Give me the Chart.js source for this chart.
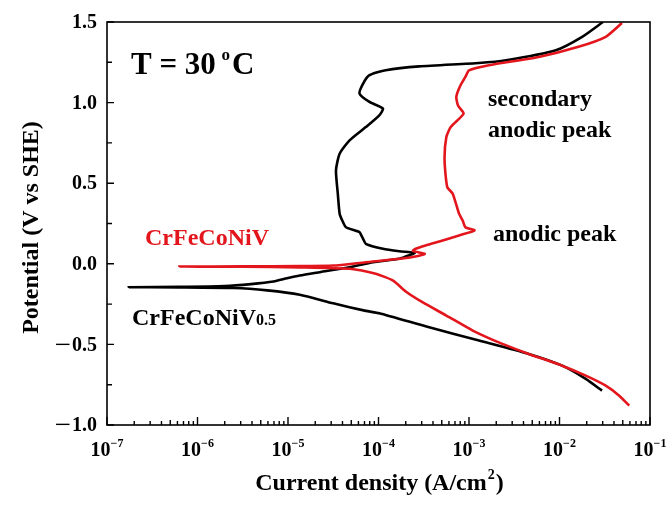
<!DOCTYPE html>
<html>
<head>
<meta charset="utf-8">
<script src="https://cdn.jsdelivr.net/npm/chart.js@4.4.1/dist/chart.umd.min.js"></script>
<style>
  html, body { margin: 0; padding: 0; background: #ffffff; }
  #wrap { width: 666px; height: 505px; }
</style>
</head>
<body>
<div id="wrap"><canvas id="c" width="666" height="505"></canvas></div>
<script>
// ---- Data (current density in A/cm2, potential in V vs SHE) ----
// CrFeCoNiV0.5 (black), in sweep order: cathodic end -> Ecorr -> anodic
const currentV05 = [
  2.95e-2, 1.95e-2, 1.07e-2, 4.57e-3, 1.29e-3, 3.63e-4, 1.02e-4, 7.24e-5, 3.16e-5, 1.35e-5,
  5.89e-6, 2.51e-6, 6.31e-7, 1.74e-7,
  6.31e-7, 2.00e-6, 3.89e-6, 6.92e-6, 9.77e-6, 1.35e-5, 2.24e-5, 4.79e-5, 8.71e-5, 1.70e-4,
  2.24e-4, 2.51e-4, 1.70e-4, 1.12e-4, 7.24e-5, 6.76e-5, 6.46e-5, 6.17e-5, 4.37e-5, 3.98e-5,
  3.72e-5, 3.55e-5, 3.39e-5, 3.72e-5, 4.79e-5, 7.24e-5, 1.02e-4, 1.12e-4, 7.94e-5, 6.17e-5,
  6.76e-5, 7.94e-5, 1.20e-4, 2.82e-4, 1.29e-3, 2.57e-3, 9.12e-3, 1.78e-2, 3.02e-2
];
const potentialV05 = [
  -0.787, -0.714, -0.632, -0.559, -0.476, -0.394, -0.307, -0.292, -0.245, -0.192,
  -0.165, -0.150, -0.146, -0.145,
  -0.143, -0.138, -0.126, -0.110, -0.090, -0.073, -0.052, -0.021, 0.010, 0.031,
  0.055, 0.068, 0.078, 0.093, 0.124, 0.155, 0.176, 0.196, 0.227, 0.269,
  0.311, 0.435, 0.580, 0.683, 0.766, 0.848, 0.921, 0.963, 1.004, 1.056,
  1.118, 1.170, 1.201, 1.225, 1.246, 1.263, 1.325, 1.408, 1.500
];
// CrFeCoNiV (red)
const currentV10 = [
  5.89e-2, 4.57e-2, 3.24e-2, 1.95e-2, 1.07e-2, 4.57e-3, 2.34e-3, 1.10e-3, 5.62e-4, 3.09e-4,
  2.00e-4, 1.45e-4, 9.33e-5, 4.79e-5, 1.35e-5, 3.16e-6, 6.31e-7,
  3.16e-6, 1.35e-5, 3.16e-5, 7.24e-5, 1.74e-4, 2.82e-4, 3.24e-4, 2.40e-4, 2.57e-4, 3.31e-4,
  5.13e-4, 7.76e-4, 1.15e-3, 9.12e-4, 8.51e-4, 7.76e-4, 6.61e-4, 5.75e-4, 5.37e-4, 5.62e-4,
  6.31e-4, 8.71e-4, 7.59e-4, 7.24e-4, 7.94e-4, 9.12e-4, 1.00e-3, 1.66e-3, 5.89e-3, 1.62e-2,
  3.24e-2, 4.90e-2
];
const potentialV10 = [
  -0.880, -0.818, -0.756, -0.694, -0.632, -0.559, -0.497, -0.414, -0.321, -0.240,
  -0.172, -0.104, -0.062, -0.031, -0.022, -0.018, -0.017,
  -0.016, -0.014, -0.011, 0.010, 0.031, 0.050, 0.062, 0.080, 0.093, 0.114,
  0.145, 0.176, 0.207, 0.227, 0.269, 0.311, 0.435, 0.476, 0.642, 0.786,
  0.850, 0.932, 0.980, 1.035, 1.100, 1.159, 1.200, 1.232, 1.283, 1.346,
  1.408, 1.494
];
// Axis ticks
const xTickExponents = [-7, -6, -5, -4, -3, -2, -1];
const yTickValues = [-1.0, -0.5, 0.0, 0.5, 1.0, 1.5];
const yTickLabels = ['\u22121.0', '\u22120.5', '0.0', '0.5', '1.0', '1.5'];
const yMinorTicks = [-0.75, -0.25, 0.25, 0.75, 1.25];

const RED = '#e2161c';
const FONT = '"Liberation Serif", "Times New Roman", serif';

function pairs(xs, ys) { return xs.map((x, i) => ({ x: x, y: ys[i] })); }

const decorPlugin = {
  id: 'decor',
  afterDraw(chart) {
    const ctx = chart.ctx;
    const a = chart.chartArea;
    const xs = chart.scales.x, ys = chart.scales.y;
    ctx.save();
    // frame
    ctx.strokeStyle = '#000';
    ctx.lineWidth = 1.6;
    ctx.strokeRect(a.left, a.top, a.right - a.left, a.bottom - a.top);
    // y ticks (inward)
    ctx.lineWidth = 1.4;
    ctx.beginPath();
    yTickValues.forEach(v => { const p = ys.getPixelForValue(v); ctx.moveTo(a.left, p); ctx.lineTo(a.left + 7, p); });
    yMinorTicks.forEach(v => { const p = ys.getPixelForValue(v); ctx.moveTo(a.left, p); ctx.lineTo(a.left + 5, p); });
    // x ticks (inward)
    xTickExponents.forEach((e, i) => {
      const p = xs.getPixelForValue(Math.pow(10, e));
      ctx.moveTo(p, a.bottom); ctx.lineTo(p, a.bottom - 8);
      if (i < xTickExponents.length - 1) {
        for (let m = 2; m <= 9; m++) {
          const q = xs.getPixelForValue(m * Math.pow(10, e));
          ctx.moveTo(q, a.bottom); ctx.lineTo(q, a.bottom - (m === 5 ? 5 : 4));
        }
      }
    });
    ctx.stroke();

    // y tick labels (number right-aligned, widened minus placed before it)
    ctx.fillStyle = '#000';
    ctx.font = 'bold 20px ' + FONT;
    ctx.textAlign = 'right';
    ctx.textBaseline = 'middle';
    yTickValues.forEach((v, i) => {
      const py = ys.getPixelForValue(v) + 1;
      const lab = yTickLabels[i];
      if (lab.charAt(0) === '\u2212') {
        const num = lab.slice(1);
        ctx.fillText(num, a.left - 10, py);
        const wn = ctx.measureText(num).width;
        ctx.save();
        ctx.translate(a.left - 11 - wn, py);
        ctx.scale(1.45, 1);
        ctx.fillText('\u2212', 0, 0);
        ctx.restore();
      } else {
        ctx.fillText(lab, a.left - 10, py);
      }
    });

    // x tick labels: 10 with superscript exponent
    ctx.textBaseline = 'alphabetic';
    ctx.textAlign = 'left';
    xTickExponents.forEach(e => {
      const p = xs.getPixelForValue(Math.pow(10, e));
      ctx.font = 'bold 20px ' + FONT;
      const w1 = ctx.measureText('10').width;
      const ex = '\u2212' + Math.abs(e);
      ctx.font = 'bold 12px ' + FONT;
      const w2 = ctx.measureText(ex).width;
      const x0 = p - (w1 + w2) / 2;
      ctx.font = 'bold 20px ' + FONT;
      ctx.fillText('10', x0, a.bottom + 31);
      ctx.font = 'bold 12px ' + FONT;
      ctx.fillText(ex, x0 + w1, a.bottom + 22);
    });

    // axis titles
    ctx.font = 'bold 24px ' + FONT;
    const cx = (a.left + a.right) / 2;
    const t1 = 'Current density (A/cm', t2 = ')';
    const wA = ctx.measureText(t1).width, wB = ctx.measureText(t2).width;
    ctx.font = 'bold 14px ' + FONT;
    const wS = ctx.measureText('2').width;
    let sx = cx - (wA + wS + wB) / 2;
    ctx.font = 'bold 24px ' + FONT;
    ctx.fillText(t1, sx, 490);
    ctx.font = 'bold 14px ' + FONT;
    ctx.fillText('2', sx + wA + 1, 479);
    ctx.font = 'bold 24px ' + FONT;
    ctx.fillText(t2, sx + wA + wS + 2, 490);

    ctx.save();
    ctx.translate(38, (a.top + a.bottom) / 2 + 4);
    ctx.rotate(-Math.PI / 2);
    ctx.textAlign = 'center';
    ctx.fillText('Potential (V vs SHE)', 0, 0);
    ctx.restore();

    // annotations
    ctx.textAlign = 'left';
    ctx.font = 'bold 31px ' + FONT;
    const tA = 'T = 30 ';
    ctx.fillText(tA, 131, 74);
    const wT = ctx.measureText(tA).width;
    ctx.font = 'bold 17px ' + FONT;
    ctx.fillText('o', 131 + wT - 2, 60);
    const wo = ctx.measureText('o').width;
    ctx.font = 'bold 31px ' + FONT;
    ctx.fillText('C', 131 + wT + wo, 74);

    ctx.font = 'bold 24px ' + FONT;
    ctx.fillStyle = RED;
    ctx.fillText('CrFeCoNiV', 145, 245);
    ctx.fillStyle = '#000';
    ctx.fillText('CrFeCoNiV', 132, 325);
    const wC = ctx.measureText('CrFeCoNiV').width;
    ctx.font = 'bold 16px ' + FONT;
    ctx.fillText('0.5', 132 + wC, 325);

    ctx.font = 'bold 24px ' + FONT;
    ctx.fillText('secondary', 488, 106);
    ctx.fillText('anodic peak', 488, 137);
    ctx.fillText('anodic peak', 493, 241);
    ctx.restore();
  }
};

new Chart(document.getElementById('c'), {
  type: 'scatter',
  data: {
    datasets: [
      {
        label: 'CrFeCoNiV',
        data: pairs(currentV10, potentialV10),
        showLine: true, borderColor: RED, backgroundColor: RED,
        borderWidth: 2.6, pointRadius: 0, tension: 0.2
      },
      {
        label: 'CrFeCoNiV0.5',
        data: pairs(currentV05, potentialV05),
        showLine: true, borderColor: '#000', backgroundColor: '#000',
        borderWidth: 2.6, pointRadius: 0, tension: 0.2
      }
    ]
  },
  options: {
    responsive: false,
    animation: false,
    devicePixelRatio: 1,
    layout: { padding: { left: 107, right: 16, top: 22, bottom: 80 } },
    plugins: { legend: { display: false }, tooltip: { enabled: false } },
    scales: {
      x: { type: 'logarithmic', min: 1e-7, max: 1e-1, display: false },
      y: { type: 'linear', min: -1.0, max: 1.5, display: false }
    }
  },
  plugins: [decorPlugin]
});
</script>
</body>
</html>
